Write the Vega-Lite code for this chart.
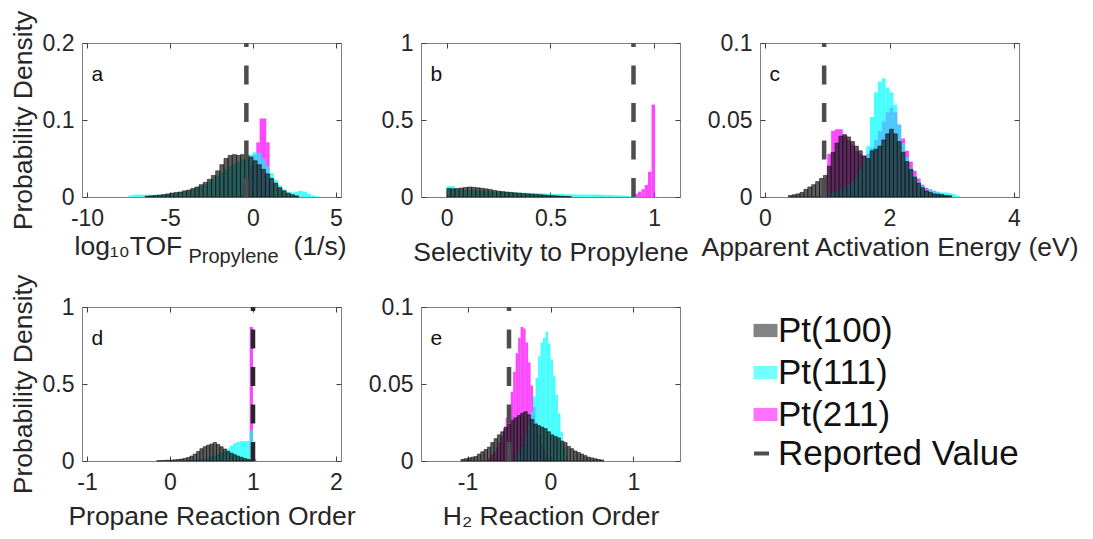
{
"$schema":"https://vega.github.io/schema/vega-lite/v6.json",
"padding":{"left":9,"top":9,"right":5,"bottom":5},
"datasets":{
"ref":[
{"p":"a","x0":-0.4,"r":"Reported Value"},
{"p":"b","x0":0.9,"r":"Reported Value"},
{"p":"c","x0":0.95,"r":"Reported Value"},
{"p":"d","x0":1.0,"r":"Reported Value"},
{"p":"e","x0":-0.5,"r":"Reported Value"}
],
"bars":[
{"p":"a","s":"Pt(100)","x0":-6.5,"x1":-6.25,"y":0.001},
{"p":"a","s":"Pt(100)","x0":-6.25,"x1":-6,"y":0.0015},
{"p":"a","s":"Pt(100)","x0":-6,"x1":-5.75,"y":0.002},
{"p":"a","s":"Pt(100)","x0":-5.75,"x1":-5.5,"y":0.0025},
{"p":"a","s":"Pt(100)","x0":-5.5,"x1":-5.25,"y":0.003},
{"p":"a","s":"Pt(100)","x0":-5.25,"x1":-5,"y":0.004},
{"p":"a","s":"Pt(100)","x0":-5,"x1":-4.75,"y":0.005},
{"p":"a","s":"Pt(100)","x0":-4.75,"x1":-4.5,"y":0.006},
{"p":"a","s":"Pt(100)","x0":-4.5,"x1":-4.25,"y":0.0065},
{"p":"a","s":"Pt(100)","x0":-4.25,"x1":-4,"y":0.008},
{"p":"a","s":"Pt(100)","x0":-4,"x1":-3.75,"y":0.009},
{"p":"a","s":"Pt(100)","x0":-3.75,"x1":-3.5,"y":0.011},
{"p":"a","s":"Pt(100)","x0":-3.5,"x1":-3.25,"y":0.013},
{"p":"a","s":"Pt(100)","x0":-3.25,"x1":-3,"y":0.016},
{"p":"a","s":"Pt(100)","x0":-3,"x1":-2.75,"y":0.019},
{"p":"a","s":"Pt(100)","x0":-2.75,"x1":-2.5,"y":0.023},
{"p":"a","s":"Pt(100)","x0":-2.5,"x1":-2.25,"y":0.028},
{"p":"a","s":"Pt(100)","x0":-2.25,"x1":-2,"y":0.034},
{"p":"a","s":"Pt(100)","x0":-2,"x1":-1.75,"y":0.042},
{"p":"a","s":"Pt(100)","x0":-1.75,"x1":-1.5,"y":0.05},
{"p":"a","s":"Pt(100)","x0":-1.5,"x1":-1.25,"y":0.054},
{"p":"a","s":"Pt(100)","x0":-1.25,"x1":-1,"y":0.055},
{"p":"a","s":"Pt(100)","x0":-1,"x1":-0.75,"y":0.054},
{"p":"a","s":"Pt(100)","x0":-0.75,"x1":-0.5,"y":0.055},
{"p":"a","s":"Pt(100)","x0":-0.5,"x1":-0.25,"y":0.054},
{"p":"a","s":"Pt(100)","x0":-0.25,"x1":0,"y":0.052},
{"p":"a","s":"Pt(100)","x0":0,"x1":0.25,"y":0.047},
{"p":"a","s":"Pt(100)","x0":0.25,"x1":0.5,"y":0.042},
{"p":"a","s":"Pt(100)","x0":0.5,"x1":0.75,"y":0.036},
{"p":"a","s":"Pt(100)","x0":0.75,"x1":1,"y":0.03},
{"p":"a","s":"Pt(100)","x0":1,"x1":1.25,"y":0.024},
{"p":"a","s":"Pt(100)","x0":1.25,"x1":1.5,"y":0.018},
{"p":"a","s":"Pt(100)","x0":1.5,"x1":1.75,"y":0.012},
{"p":"a","s":"Pt(100)","x0":1.75,"x1":2,"y":0.008},
{"p":"a","s":"Pt(100)","x0":2,"x1":2.25,"y":0.005},
{"p":"a","s":"Pt(100)","x0":2.25,"x1":2.5,"y":0.003},
{"p":"a","s":"Pt(100)","x0":2.5,"x1":2.75,"y":0.0015},
{"p":"a","s":"Pt(111)","x0":-7.5,"x1":-7.25,"y":0.002},
{"p":"a","s":"Pt(111)","x0":-7.25,"x1":-7,"y":0.003},
{"p":"a","s":"Pt(111)","x0":-7,"x1":-6.75,"y":0.003},
{"p":"a","s":"Pt(111)","x0":-6.75,"x1":-6.5,"y":0.003},
{"p":"a","s":"Pt(111)","x0":-6.5,"x1":-6.25,"y":0.003},
{"p":"a","s":"Pt(111)","x0":-6.25,"x1":-6,"y":0.003},
{"p":"a","s":"Pt(111)","x0":-6,"x1":-5.75,"y":0.003},
{"p":"a","s":"Pt(111)","x0":-5.75,"x1":-5.5,"y":0.003},
{"p":"a","s":"Pt(111)","x0":-5.5,"x1":-5.25,"y":0.004},
{"p":"a","s":"Pt(111)","x0":-5.25,"x1":-5,"y":0.004},
{"p":"a","s":"Pt(111)","x0":-5,"x1":-4.75,"y":0.005},
{"p":"a","s":"Pt(111)","x0":-4.75,"x1":-4.5,"y":0.005},
{"p":"a","s":"Pt(111)","x0":-4.5,"x1":-4.25,"y":0.006},
{"p":"a","s":"Pt(111)","x0":-4.25,"x1":-4,"y":0.007},
{"p":"a","s":"Pt(111)","x0":-4,"x1":-3.75,"y":0.008},
{"p":"a","s":"Pt(111)","x0":-3.75,"x1":-3.5,"y":0.01},
{"p":"a","s":"Pt(111)","x0":-3.5,"x1":-3.25,"y":0.012},
{"p":"a","s":"Pt(111)","x0":-3.25,"x1":-3,"y":0.014},
{"p":"a","s":"Pt(111)","x0":-3,"x1":-2.75,"y":0.017},
{"p":"a","s":"Pt(111)","x0":-2.75,"x1":-2.5,"y":0.02},
{"p":"a","s":"Pt(111)","x0":-2.5,"x1":-2.25,"y":0.024},
{"p":"a","s":"Pt(111)","x0":-2.25,"x1":-2,"y":0.028},
{"p":"a","s":"Pt(111)","x0":-2,"x1":-1.75,"y":0.032},
{"p":"a","s":"Pt(111)","x0":-1.75,"x1":-1.5,"y":0.036},
{"p":"a","s":"Pt(111)","x0":-1.5,"x1":-1.25,"y":0.04},
{"p":"a","s":"Pt(111)","x0":-1.25,"x1":-1,"y":0.043},
{"p":"a","s":"Pt(111)","x0":-1,"x1":-0.75,"y":0.046},
{"p":"a","s":"Pt(111)","x0":-0.75,"x1":-0.5,"y":0.049},
{"p":"a","s":"Pt(111)","x0":-0.5,"x1":-0.25,"y":0.052},
{"p":"a","s":"Pt(111)","x0":-0.25,"x1":0,"y":0.055},
{"p":"a","s":"Pt(111)","x0":0,"x1":0.25,"y":0.058},
{"p":"a","s":"Pt(111)","x0":0.25,"x1":0.5,"y":0.057},
{"p":"a","s":"Pt(111)","x0":0.5,"x1":0.75,"y":0.05},
{"p":"a","s":"Pt(111)","x0":0.75,"x1":1,"y":0.04},
{"p":"a","s":"Pt(111)","x0":1,"x1":1.25,"y":0.031},
{"p":"a","s":"Pt(111)","x0":1.25,"x1":1.5,"y":0.022},
{"p":"a","s":"Pt(111)","x0":1.5,"x1":1.75,"y":0.015},
{"p":"a","s":"Pt(111)","x0":1.75,"x1":2,"y":0.01},
{"p":"a","s":"Pt(111)","x0":2,"x1":2.25,"y":0.007},
{"p":"a","s":"Pt(111)","x0":2.25,"x1":2.5,"y":0.006},
{"p":"a","s":"Pt(111)","x0":2.5,"x1":2.75,"y":0.007},
{"p":"a","s":"Pt(111)","x0":2.75,"x1":3,"y":0.008},
{"p":"a","s":"Pt(111)","x0":3,"x1":3.25,"y":0.007},
{"p":"a","s":"Pt(111)","x0":3.25,"x1":3.5,"y":0.004},
{"p":"a","s":"Pt(111)","x0":3.5,"x1":3.75,"y":0.002},
{"p":"a","s":"Pt(111)","x0":3.75,"x1":4,"y":0.001},
{"p":"a","s":"Pt(211)","x0":-0.6,"x1":-0.4,"y":0.015},
{"p":"a","s":"Pt(211)","x0":-0.4,"x1":-0.2,"y":0.025},
{"p":"a","s":"Pt(211)","x0":-0.2,"x1":0,"y":0.04},
{"p":"a","s":"Pt(211)","x0":0,"x1":0.2,"y":0.055},
{"p":"a","s":"Pt(211)","x0":0.2,"x1":0.4,"y":0.071},
{"p":"a","s":"Pt(211)","x0":0.4,"x1":0.6,"y":0.102},
{"p":"a","s":"Pt(211)","x0":0.6,"x1":0.8,"y":0.102},
{"p":"a","s":"Pt(211)","x0":0.8,"x1":1,"y":0.071},
{"p":"a","s":"Pt(211)","x0":1,"x1":1.2,"y":0.025},

{"p":"b","s":"Pt(100)","x0":0,"x1":0.02,"y":0.055},
{"p":"b","s":"Pt(100)","x0":0.02,"x1":0.04,"y":0.053},
{"p":"b","s":"Pt(100)","x0":0.04,"x1":0.06,"y":0.055},
{"p":"b","s":"Pt(100)","x0":0.06,"x1":0.08,"y":0.058},
{"p":"b","s":"Pt(100)","x0":0.08,"x1":0.1,"y":0.062},
{"p":"b","s":"Pt(100)","x0":0.1,"x1":0.12,"y":0.065},
{"p":"b","s":"Pt(100)","x0":0.12,"x1":0.14,"y":0.063},
{"p":"b","s":"Pt(100)","x0":0.14,"x1":0.16,"y":0.06},
{"p":"b","s":"Pt(100)","x0":0.16,"x1":0.18,"y":0.057},
{"p":"b","s":"Pt(100)","x0":0.18,"x1":0.2,"y":0.053},
{"p":"b","s":"Pt(100)","x0":0.2,"x1":0.22,"y":0.048},
{"p":"b","s":"Pt(100)","x0":0.22,"x1":0.24,"y":0.043},
{"p":"b","s":"Pt(100)","x0":0.24,"x1":0.26,"y":0.038},
{"p":"b","s":"Pt(100)","x0":0.26,"x1":0.28,"y":0.035},
{"p":"b","s":"Pt(100)","x0":0.28,"x1":0.3,"y":0.032},
{"p":"b","s":"Pt(100)","x0":0.3,"x1":0.32,"y":0.03},
{"p":"b","s":"Pt(100)","x0":0.32,"x1":0.34,"y":0.027},
{"p":"b","s":"Pt(100)","x0":0.34,"x1":0.36,"y":0.025},
{"p":"b","s":"Pt(100)","x0":0.36,"x1":0.38,"y":0.023},
{"p":"b","s":"Pt(100)","x0":0.38,"x1":0.4,"y":0.021},
{"p":"b","s":"Pt(100)","x0":0.4,"x1":0.42,"y":0.019},
{"p":"b","s":"Pt(100)","x0":0.42,"x1":0.44,"y":0.017},
{"p":"b","s":"Pt(100)","x0":0.44,"x1":0.46,"y":0.015},
{"p":"b","s":"Pt(100)","x0":0.46,"x1":0.48,"y":0.013},
{"p":"b","s":"Pt(100)","x0":0.48,"x1":0.5,"y":0.011},
{"p":"b","s":"Pt(100)","x0":0.5,"x1":0.52,"y":0.009},
{"p":"b","s":"Pt(100)","x0":0.52,"x1":0.54,"y":0.007},
{"p":"b","s":"Pt(100)","x0":0.54,"x1":0.56,"y":0.005},
{"p":"b","s":"Pt(100)","x0":0.56,"x1":0.58,"y":0.004},
{"p":"b","s":"Pt(100)","x0":0.58,"x1":0.6,"y":0.003},
{"p":"b","s":"Pt(111)","x0":0,"x1":0.04,"y":0.07},
{"p":"b","s":"Pt(111)","x0":0.04,"x1":0.08,"y":0.05},
{"p":"b","s":"Pt(111)","x0":0.08,"x1":0.12,"y":0.047},
{"p":"b","s":"Pt(111)","x0":0.12,"x1":0.16,"y":0.044},
{"p":"b","s":"Pt(111)","x0":0.16,"x1":0.2,"y":0.041},
{"p":"b","s":"Pt(111)","x0":0.2,"x1":0.24,"y":0.037},
{"p":"b","s":"Pt(111)","x0":0.24,"x1":0.28,"y":0.034},
{"p":"b","s":"Pt(111)","x0":0.28,"x1":0.32,"y":0.031},
{"p":"b","s":"Pt(111)","x0":0.32,"x1":0.36,"y":0.029},
{"p":"b","s":"Pt(111)","x0":0.36,"x1":0.4,"y":0.027},
{"p":"b","s":"Pt(111)","x0":0.4,"x1":0.44,"y":0.025},
{"p":"b","s":"Pt(111)","x0":0.44,"x1":0.48,"y":0.023},
{"p":"b","s":"Pt(111)","x0":0.48,"x1":0.52,"y":0.021},
{"p":"b","s":"Pt(111)","x0":0.52,"x1":0.56,"y":0.019},
{"p":"b","s":"Pt(111)","x0":0.56,"x1":0.6,"y":0.018},
{"p":"b","s":"Pt(111)","x0":0.6,"x1":0.64,"y":0.017},
{"p":"b","s":"Pt(111)","x0":0.64,"x1":0.68,"y":0.016},
{"p":"b","s":"Pt(111)","x0":0.68,"x1":0.72,"y":0.016},
{"p":"b","s":"Pt(111)","x0":0.72,"x1":0.76,"y":0.015},
{"p":"b","s":"Pt(111)","x0":0.76,"x1":0.8,"y":0.013},
{"p":"b","s":"Pt(111)","x0":0.8,"x1":0.84,"y":0.011},
{"p":"b","s":"Pt(111)","x0":0.84,"x1":0.88,"y":0.008},
{"p":"b","s":"Pt(111)","x0":0.88,"x1":0.92,"y":0.004},
{"p":"b","s":"Pt(211)","x0":0.904,"x1":0.921,"y":0.02},
{"p":"b","s":"Pt(211)","x0":0.921,"x1":0.938,"y":0.035},
{"p":"b","s":"Pt(211)","x0":0.938,"x1":0.954,"y":0.05},
{"p":"b","s":"Pt(211)","x0":0.954,"x1":0.97,"y":0.078},
{"p":"b","s":"Pt(211)","x0":0.97,"x1":0.987,"y":0.164},
{"p":"b","s":"Pt(211)","x0":0.987,"x1":1.004,"y":0.6},

{"p":"c","s":"Pt(100)","x0":0.375,"x1":0.4375,"y":0.001},
{"p":"c","s":"Pt(100)","x0":0.4375,"x1":0.5,"y":0.0015},
{"p":"c","s":"Pt(100)","x0":0.5,"x1":0.5625,"y":0.002},
{"p":"c","s":"Pt(100)","x0":0.5625,"x1":0.625,"y":0.003},
{"p":"c","s":"Pt(100)","x0":0.625,"x1":0.6875,"y":0.005},
{"p":"c","s":"Pt(100)","x0":0.6875,"x1":0.75,"y":0.0065},
{"p":"c","s":"Pt(100)","x0":0.75,"x1":0.8125,"y":0.008},
{"p":"c","s":"Pt(100)","x0":0.8125,"x1":0.875,"y":0.01},
{"p":"c","s":"Pt(100)","x0":0.875,"x1":0.9375,"y":0.012},
{"p":"c","s":"Pt(100)","x0":0.9375,"x1":1,"y":0.014},
{"p":"c","s":"Pt(100)","x0":1,"x1":1.0625,"y":0.02},
{"p":"c","s":"Pt(100)","x0":1.0625,"x1":1.125,"y":0.029},
{"p":"c","s":"Pt(100)","x0":1.125,"x1":1.1875,"y":0.035},
{"p":"c","s":"Pt(100)","x0":1.1875,"x1":1.25,"y":0.0395},
{"p":"c","s":"Pt(100)","x0":1.25,"x1":1.3125,"y":0.0405},
{"p":"c","s":"Pt(100)","x0":1.3125,"x1":1.375,"y":0.039},
{"p":"c","s":"Pt(100)","x0":1.375,"x1":1.4375,"y":0.036},
{"p":"c","s":"Pt(100)","x0":1.4375,"x1":1.5,"y":0.033},
{"p":"c","s":"Pt(100)","x0":1.5,"x1":1.5625,"y":0.03},
{"p":"c","s":"Pt(100)","x0":1.5625,"x1":1.625,"y":0.0265},
{"p":"c","s":"Pt(100)","x0":1.625,"x1":1.6875,"y":0.025},
{"p":"c","s":"Pt(100)","x0":1.6875,"x1":1.75,"y":0.03},
{"p":"c","s":"Pt(100)","x0":1.75,"x1":1.8125,"y":0.031},
{"p":"c","s":"Pt(100)","x0":1.8125,"x1":1.875,"y":0.033},
{"p":"c","s":"Pt(100)","x0":1.875,"x1":1.9375,"y":0.037},
{"p":"c","s":"Pt(100)","x0":1.9375,"x1":2,"y":0.041},
{"p":"c","s":"Pt(100)","x0":2,"x1":2.0625,"y":0.044},
{"p":"c","s":"Pt(100)","x0":2.0625,"x1":2.125,"y":0.041},
{"p":"c","s":"Pt(100)","x0":2.125,"x1":2.1875,"y":0.036},
{"p":"c","s":"Pt(100)","x0":2.1875,"x1":2.25,"y":0.029},
{"p":"c","s":"Pt(100)","x0":2.25,"x1":2.3125,"y":0.023},
{"p":"c","s":"Pt(100)","x0":2.3125,"x1":2.375,"y":0.018},
{"p":"c","s":"Pt(100)","x0":2.375,"x1":2.4375,"y":0.013},
{"p":"c","s":"Pt(100)","x0":2.4375,"x1":2.5,"y":0.009},
{"p":"c","s":"Pt(100)","x0":2.5,"x1":2.5625,"y":0.006},
{"p":"c","s":"Pt(100)","x0":2.5625,"x1":2.625,"y":0.004},
{"p":"c","s":"Pt(100)","x0":2.625,"x1":2.6875,"y":0.003},
{"p":"c","s":"Pt(100)","x0":2.6875,"x1":2.75,"y":0.002},
{"p":"c","s":"Pt(100)","x0":2.75,"x1":2.8125,"y":0.0018},
{"p":"c","s":"Pt(100)","x0":2.8125,"x1":2.875,"y":0.0015},
{"p":"c","s":"Pt(100)","x0":2.875,"x1":2.9375,"y":0.001},
{"p":"c","s":"Pt(100)","x0":2.9375,"x1":3,"y":0.0008},
{"p":"c","s":"Pt(111)","x0":1,"x1":1.0625,"y":0.002},
{"p":"c","s":"Pt(111)","x0":1.0625,"x1":1.125,"y":0.003},
{"p":"c","s":"Pt(111)","x0":1.125,"x1":1.1875,"y":0.004},
{"p":"c","s":"Pt(111)","x0":1.1875,"x1":1.25,"y":0.005},
{"p":"c","s":"Pt(111)","x0":1.25,"x1":1.3125,"y":0.006},
{"p":"c","s":"Pt(111)","x0":1.3125,"x1":1.375,"y":0.008},
{"p":"c","s":"Pt(111)","x0":1.375,"x1":1.4375,"y":0.01},
{"p":"c","s":"Pt(111)","x0":1.4375,"x1":1.5,"y":0.013},
{"p":"c","s":"Pt(111)","x0":1.5,"x1":1.5625,"y":0.018},
{"p":"c","s":"Pt(111)","x0":1.5625,"x1":1.625,"y":0.025},
{"p":"c","s":"Pt(111)","x0":1.625,"x1":1.6875,"y":0.033},
{"p":"c","s":"Pt(111)","x0":1.6875,"x1":1.75,"y":0.052},
{"p":"c","s":"Pt(111)","x0":1.75,"x1":1.8125,"y":0.068},
{"p":"c","s":"Pt(111)","x0":1.8125,"x1":1.875,"y":0.075},
{"p":"c","s":"Pt(111)","x0":1.875,"x1":1.9375,"y":0.077},
{"p":"c","s":"Pt(111)","x0":1.9375,"x1":2,"y":0.071},
{"p":"c","s":"Pt(111)","x0":2,"x1":2.0625,"y":0.068},
{"p":"c","s":"Pt(111)","x0":2.0625,"x1":2.125,"y":0.06},
{"p":"c","s":"Pt(111)","x0":2.125,"x1":2.1875,"y":0.047},
{"p":"c","s":"Pt(111)","x0":2.1875,"x1":2.25,"y":0.035},
{"p":"c","s":"Pt(111)","x0":2.25,"x1":2.3125,"y":0.026},
{"p":"c","s":"Pt(111)","x0":2.3125,"x1":2.375,"y":0.019},
{"p":"c","s":"Pt(111)","x0":2.375,"x1":2.4375,"y":0.014},
{"p":"c","s":"Pt(111)","x0":2.4375,"x1":2.5,"y":0.01},
{"p":"c","s":"Pt(111)","x0":2.5,"x1":2.5625,"y":0.007},
{"p":"c","s":"Pt(111)","x0":2.5625,"x1":2.625,"y":0.005},
{"p":"c","s":"Pt(111)","x0":2.625,"x1":2.6875,"y":0.0045},
{"p":"c","s":"Pt(111)","x0":2.6875,"x1":2.75,"y":0.004},
{"p":"c","s":"Pt(111)","x0":2.75,"x1":2.8125,"y":0.0035},
{"p":"c","s":"Pt(111)","x0":2.8125,"x1":2.875,"y":0.003},
{"p":"c","s":"Pt(111)","x0":2.875,"x1":2.9375,"y":0.003},
{"p":"c","s":"Pt(111)","x0":2.9375,"x1":3,"y":0.0025},
{"p":"c","s":"Pt(111)","x0":3,"x1":3.0625,"y":0.002},
{"p":"c","s":"Pt(111)","x0":3.0625,"x1":3.125,"y":0.001},
{"p":"c","s":"Pt(211)","x0":1,"x1":1.0625,"y":0.028},
{"p":"c","s":"Pt(211)","x0":1.0625,"x1":1.125,"y":0.043},
{"p":"c","s":"Pt(211)","x0":1.125,"x1":1.1875,"y":0.044},
{"p":"c","s":"Pt(211)","x0":1.1875,"x1":1.25,"y":0.044},
{"p":"c","s":"Pt(211)","x0":1.25,"x1":1.3125,"y":0.04},
{"p":"c","s":"Pt(211)","x0":1.3125,"x1":1.375,"y":0.037},
{"p":"c","s":"Pt(211)","x0":1.375,"x1":1.4375,"y":0.034},
{"p":"c","s":"Pt(211)","x0":1.4375,"x1":1.5,"y":0.03},
{"p":"c","s":"Pt(211)","x0":1.5,"x1":1.5625,"y":0.028},
{"p":"c","s":"Pt(211)","x0":1.5625,"x1":1.625,"y":0.027},
{"p":"c","s":"Pt(211)","x0":1.625,"x1":1.6875,"y":0.028},
{"p":"c","s":"Pt(211)","x0":1.6875,"x1":1.75,"y":0.032},
{"p":"c","s":"Pt(211)","x0":1.75,"x1":1.8125,"y":0.037},
{"p":"c","s":"Pt(211)","x0":1.8125,"x1":1.875,"y":0.043},
{"p":"c","s":"Pt(211)","x0":1.875,"x1":1.9375,"y":0.049},
{"p":"c","s":"Pt(211)","x0":1.9375,"x1":2,"y":0.055},
{"p":"c","s":"Pt(211)","x0":2,"x1":2.0625,"y":0.058},
{"p":"c","s":"Pt(211)","x0":2.0625,"x1":2.125,"y":0.055},
{"p":"c","s":"Pt(211)","x0":2.125,"x1":2.1875,"y":0.047},
{"p":"c","s":"Pt(211)","x0":2.1875,"x1":2.25,"y":0.038},
{"p":"c","s":"Pt(211)","x0":2.25,"x1":2.3125,"y":0.03},
{"p":"c","s":"Pt(211)","x0":2.3125,"x1":2.375,"y":0.023},
{"p":"c","s":"Pt(211)","x0":2.375,"x1":2.4375,"y":0.017},
{"p":"c","s":"Pt(211)","x0":2.4375,"x1":2.5,"y":0.012},
{"p":"c","s":"Pt(211)","x0":2.5,"x1":2.5625,"y":0.008},
{"p":"c","s":"Pt(211)","x0":2.5625,"x1":2.625,"y":0.006},
{"p":"c","s":"Pt(211)","x0":2.625,"x1":2.6875,"y":0.005},
{"p":"c","s":"Pt(211)","x0":2.6875,"x1":2.75,"y":0.004},
{"p":"c","s":"Pt(211)","x0":2.75,"x1":2.8125,"y":0.003},
{"p":"c","s":"Pt(211)","x0":2.8125,"x1":2.875,"y":0.002},
{"p":"c","s":"Pt(211)","x0":2.875,"x1":2.9375,"y":0.001},

{"p":"d","s":"Pt(100)","x0":-0.16,"x1":-0.12,"y":0.002},
{"p":"d","s":"Pt(100)","x0":-0.12,"x1":-0.08,"y":0.003},
{"p":"d","s":"Pt(100)","x0":-0.08,"x1":-0.04,"y":0.004},
{"p":"d","s":"Pt(100)","x0":-0.04,"x1":0,"y":0.005},
{"p":"d","s":"Pt(100)","x0":0,"x1":0.04,"y":0.006},
{"p":"d","s":"Pt(100)","x0":0.04,"x1":0.08,"y":0.008},
{"p":"d","s":"Pt(100)","x0":0.08,"x1":0.12,"y":0.01},
{"p":"d","s":"Pt(100)","x0":0.12,"x1":0.16,"y":0.013},
{"p":"d","s":"Pt(100)","x0":0.16,"x1":0.2,"y":0.017},
{"p":"d","s":"Pt(100)","x0":0.2,"x1":0.24,"y":0.023},
{"p":"d","s":"Pt(100)","x0":0.24,"x1":0.28,"y":0.032},
{"p":"d","s":"Pt(100)","x0":0.28,"x1":0.32,"y":0.045},
{"p":"d","s":"Pt(100)","x0":0.32,"x1":0.36,"y":0.062},
{"p":"d","s":"Pt(100)","x0":0.36,"x1":0.4,"y":0.08},
{"p":"d","s":"Pt(100)","x0":0.4,"x1":0.44,"y":0.093},
{"p":"d","s":"Pt(100)","x0":0.44,"x1":0.48,"y":0.103},
{"p":"d","s":"Pt(100)","x0":0.48,"x1":0.52,"y":0.11},
{"p":"d","s":"Pt(100)","x0":0.52,"x1":0.56,"y":0.12},
{"p":"d","s":"Pt(100)","x0":0.56,"x1":0.6,"y":0.108},
{"p":"d","s":"Pt(100)","x0":0.6,"x1":0.64,"y":0.093},
{"p":"d","s":"Pt(100)","x0":0.64,"x1":0.68,"y":0.078},
{"p":"d","s":"Pt(100)","x0":0.68,"x1":0.72,"y":0.063},
{"p":"d","s":"Pt(100)","x0":0.72,"x1":0.76,"y":0.051},
{"p":"d","s":"Pt(100)","x0":0.76,"x1":0.8,"y":0.041},
{"p":"d","s":"Pt(100)","x0":0.8,"x1":0.84,"y":0.032},
{"p":"d","s":"Pt(100)","x0":0.84,"x1":0.88,"y":0.024},
{"p":"d","s":"Pt(100)","x0":0.88,"x1":0.92,"y":0.017},
{"p":"d","s":"Pt(100)","x0":0.92,"x1":0.96,"y":0.011},
{"p":"d","s":"Pt(100)","x0":0.96,"x1":1,"y":0.006},
{"p":"d","s":"Pt(111)","x0":0.2,"x1":0.24,"y":0.004},
{"p":"d","s":"Pt(111)","x0":0.24,"x1":0.28,"y":0.006},
{"p":"d","s":"Pt(111)","x0":0.28,"x1":0.32,"y":0.008},
{"p":"d","s":"Pt(111)","x0":0.32,"x1":0.36,"y":0.011},
{"p":"d","s":"Pt(111)","x0":0.36,"x1":0.4,"y":0.015},
{"p":"d","s":"Pt(111)","x0":0.4,"x1":0.44,"y":0.019},
{"p":"d","s":"Pt(111)","x0":0.44,"x1":0.48,"y":0.024},
{"p":"d","s":"Pt(111)","x0":0.48,"x1":0.52,"y":0.03},
{"p":"d","s":"Pt(111)","x0":0.52,"x1":0.56,"y":0.037},
{"p":"d","s":"Pt(111)","x0":0.56,"x1":0.6,"y":0.045},
{"p":"d","s":"Pt(111)","x0":0.6,"x1":0.64,"y":0.055},
{"p":"d","s":"Pt(111)","x0":0.64,"x1":0.68,"y":0.066},
{"p":"d","s":"Pt(111)","x0":0.68,"x1":0.72,"y":0.08},
{"p":"d","s":"Pt(111)","x0":0.72,"x1":0.76,"y":0.1},
{"p":"d","s":"Pt(111)","x0":0.76,"x1":0.8,"y":0.115},
{"p":"d","s":"Pt(111)","x0":0.8,"x1":0.84,"y":0.124},
{"p":"d","s":"Pt(111)","x0":0.84,"x1":0.88,"y":0.128},
{"p":"d","s":"Pt(111)","x0":0.88,"x1":0.92,"y":0.13},
{"p":"d","s":"Pt(111)","x0":0.92,"x1":0.96,"y":0.13},
{"p":"d","s":"Pt(111)","x0":0.96,"x1":1,"y":0.2},
{"p":"d","s":"Pt(211)","x0":0.96,"x1":1,"y":0.87},
{"p":"d","s":"Pt(211)","x0":1,"x1":1.04,"y":0.012},

{"p":"e","s":"Pt(100)","x0":-1.08,"x1":-1.04,"y":0.001},
{"p":"e","s":"Pt(100)","x0":-1.04,"x1":-1,"y":0.0015},
{"p":"e","s":"Pt(100)","x0":-1,"x1":-0.96,"y":0.002},
{"p":"e","s":"Pt(100)","x0":-0.96,"x1":-0.92,"y":0.0025},
{"p":"e","s":"Pt(100)","x0":-0.92,"x1":-0.88,"y":0.003},
{"p":"e","s":"Pt(100)","x0":-0.88,"x1":-0.84,"y":0.0045},
{"p":"e","s":"Pt(100)","x0":-0.84,"x1":-0.8,"y":0.006},
{"p":"e","s":"Pt(100)","x0":-0.8,"x1":-0.76,"y":0.0075},
{"p":"e","s":"Pt(100)","x0":-0.76,"x1":-0.72,"y":0.009},
{"p":"e","s":"Pt(100)","x0":-0.72,"x1":-0.68,"y":0.012},
{"p":"e","s":"Pt(100)","x0":-0.68,"x1":-0.64,"y":0.0145},
{"p":"e","s":"Pt(100)","x0":-0.64,"x1":-0.6,"y":0.017},
{"p":"e","s":"Pt(100)","x0":-0.6,"x1":-0.56,"y":0.019},
{"p":"e","s":"Pt(100)","x0":-0.56,"x1":-0.52,"y":0.022},
{"p":"e","s":"Pt(100)","x0":-0.52,"x1":-0.48,"y":0.024},
{"p":"e","s":"Pt(100)","x0":-0.48,"x1":-0.44,"y":0.0265},
{"p":"e","s":"Pt(100)","x0":-0.44,"x1":-0.4,"y":0.028},
{"p":"e","s":"Pt(100)","x0":-0.4,"x1":-0.36,"y":0.0295},
{"p":"e","s":"Pt(100)","x0":-0.36,"x1":-0.32,"y":0.031},
{"p":"e","s":"Pt(100)","x0":-0.32,"x1":-0.28,"y":0.032},
{"p":"e","s":"Pt(100)","x0":-0.28,"x1":-0.24,"y":0.03},
{"p":"e","s":"Pt(100)","x0":-0.24,"x1":-0.2,"y":0.027},
{"p":"e","s":"Pt(100)","x0":-0.2,"x1":-0.16,"y":0.024},
{"p":"e","s":"Pt(100)","x0":-0.16,"x1":-0.12,"y":0.023},
{"p":"e","s":"Pt(100)","x0":-0.12,"x1":-0.08,"y":0.022},
{"p":"e","s":"Pt(100)","x0":-0.08,"x1":-0.04,"y":0.021},
{"p":"e","s":"Pt(100)","x0":-0.04,"x1":0,"y":0.019},
{"p":"e","s":"Pt(100)","x0":0,"x1":0.04,"y":0.017},
{"p":"e","s":"Pt(100)","x0":0.04,"x1":0.08,"y":0.016},
{"p":"e","s":"Pt(100)","x0":0.08,"x1":0.12,"y":0.015},
{"p":"e","s":"Pt(100)","x0":0.12,"x1":0.16,"y":0.013},
{"p":"e","s":"Pt(100)","x0":0.16,"x1":0.2,"y":0.012},
{"p":"e","s":"Pt(100)","x0":0.2,"x1":0.24,"y":0.0095},
{"p":"e","s":"Pt(100)","x0":0.24,"x1":0.28,"y":0.008},
{"p":"e","s":"Pt(100)","x0":0.28,"x1":0.32,"y":0.0065},
{"p":"e","s":"Pt(100)","x0":0.32,"x1":0.36,"y":0.0055},
{"p":"e","s":"Pt(100)","x0":0.36,"x1":0.4,"y":0.0045},
{"p":"e","s":"Pt(100)","x0":0.4,"x1":0.44,"y":0.0035},
{"p":"e","s":"Pt(100)","x0":0.44,"x1":0.48,"y":0.0025},
{"p":"e","s":"Pt(100)","x0":0.48,"x1":0.52,"y":0.002},
{"p":"e","s":"Pt(100)","x0":0.52,"x1":0.56,"y":0.0015},
{"p":"e","s":"Pt(100)","x0":0.56,"x1":0.6,"y":0.001},
{"p":"e","s":"Pt(100)","x0":0.6,"x1":0.64,"y":0.0007},
{"p":"e","s":"Pt(111)","x0":-0.42,"x1":-0.39,"y":0.004},
{"p":"e","s":"Pt(111)","x0":-0.39,"x1":-0.36,"y":0.006},
{"p":"e","s":"Pt(111)","x0":-0.36,"x1":-0.33,"y":0.009},
{"p":"e","s":"Pt(111)","x0":-0.33,"x1":-0.3,"y":0.013},
{"p":"e","s":"Pt(111)","x0":-0.3,"x1":-0.27,"y":0.018},
{"p":"e","s":"Pt(111)","x0":-0.27,"x1":-0.24,"y":0.024},
{"p":"e","s":"Pt(111)","x0":-0.24,"x1":-0.21,"y":0.032},
{"p":"e","s":"Pt(111)","x0":-0.21,"x1":-0.18,"y":0.042},
{"p":"e","s":"Pt(111)","x0":-0.18,"x1":-0.15,"y":0.054},
{"p":"e","s":"Pt(111)","x0":-0.15,"x1":-0.12,"y":0.068},
{"p":"e","s":"Pt(111)","x0":-0.12,"x1":-0.09,"y":0.077},
{"p":"e","s":"Pt(111)","x0":-0.09,"x1":-0.06,"y":0.08},
{"p":"e","s":"Pt(111)","x0":-0.06,"x1":-0.03,"y":0.084},
{"p":"e","s":"Pt(111)","x0":-0.03,"x1":0,"y":0.076},
{"p":"e","s":"Pt(111)","x0":0,"x1":0.03,"y":0.066},
{"p":"e","s":"Pt(111)","x0":0.03,"x1":0.06,"y":0.055},
{"p":"e","s":"Pt(111)","x0":0.06,"x1":0.09,"y":0.043},
{"p":"e","s":"Pt(111)","x0":0.09,"x1":0.12,"y":0.031},
{"p":"e","s":"Pt(111)","x0":0.12,"x1":0.15,"y":0.019},
{"p":"e","s":"Pt(111)","x0":0.15,"x1":0.18,"y":0.009},
{"p":"e","s":"Pt(111)","x0":0.18,"x1":0.21,"y":0.002},
{"p":"e","s":"Pt(211)","x0":-0.75,"x1":-0.72,"y":0.002},
{"p":"e","s":"Pt(211)","x0":-0.72,"x1":-0.69,"y":0.004},
{"p":"e","s":"Pt(211)","x0":-0.69,"x1":-0.66,"y":0.006},
{"p":"e","s":"Pt(211)","x0":-0.66,"x1":-0.63,"y":0.009},
{"p":"e","s":"Pt(211)","x0":-0.63,"x1":-0.6,"y":0.012},
{"p":"e","s":"Pt(211)","x0":-0.6,"x1":-0.57,"y":0.016},
{"p":"e","s":"Pt(211)","x0":-0.57,"x1":-0.54,"y":0.021},
{"p":"e","s":"Pt(211)","x0":-0.54,"x1":-0.51,"y":0.028},
{"p":"e","s":"Pt(211)","x0":-0.51,"x1":-0.48,"y":0.036},
{"p":"e","s":"Pt(211)","x0":-0.48,"x1":-0.45,"y":0.045},
{"p":"e","s":"Pt(211)","x0":-0.45,"x1":-0.42,"y":0.058},
{"p":"e","s":"Pt(211)","x0":-0.42,"x1":-0.39,"y":0.07},
{"p":"e","s":"Pt(211)","x0":-0.39,"x1":-0.36,"y":0.08},
{"p":"e","s":"Pt(211)","x0":-0.36,"x1":-0.33,"y":0.087},
{"p":"e","s":"Pt(211)","x0":-0.33,"x1":-0.3,"y":0.086},
{"p":"e","s":"Pt(211)","x0":-0.3,"x1":-0.27,"y":0.077},
{"p":"e","s":"Pt(211)","x0":-0.27,"x1":-0.24,"y":0.064},
{"p":"e","s":"Pt(211)","x0":-0.24,"x1":-0.21,"y":0.049},
{"p":"e","s":"Pt(211)","x0":-0.21,"x1":-0.18,"y":0.035},
{"p":"e","s":"Pt(211)","x0":-0.18,"x1":-0.15,"y":0.025},
{"p":"e","s":"Pt(211)","x0":-0.15,"x1":-0.12,"y":0.017},
{"p":"e","s":"Pt(211)","x0":-0.12,"x1":-0.09,"y":0.011},
{"p":"e","s":"Pt(211)","x0":-0.09,"x1":-0.06,"y":0.007},
{"p":"e","s":"Pt(211)","x0":-0.06,"x1":-0.03,"y":0.004},
{"p":"e","s":"Pt(211)","x0":-0.03,"x1":0,"y":0.002}
]
},
"columns":3,
"bounds":"flush",
"spacing":{"row":110,"column":80},
"concat":[
{
"width":259,"height":154,
"resolve":{"axis":{"x":"independent","y":"independent"}},
"layer":[
{"data":{"name":"bars"},"transform":[{"filter":"datum.p==='a' && datum.s==='Pt(211)'"}],
"mark":{"type":"bar","orient":"vertical","fillOpacity":0.72},
"encoding":{
"x":{"field":"x0","type":"quantitative","scale":{"domain":[-10,5],"nice":false},"axis":{"values":[-10,-5,0,5],"title":"log₁₀TOF","titleX":-8,"titleY":57,"titleAlign":"left","titleBaseline":"alphabetic"}},
"x2":{"field":"x1"},
"y":{"field":"y","type":"quantitative","scale":{"domain":[0,0.2],"nice":false},"axis":{"values":[0,0.1,0.2],"title":"Probability Density","titleX":-59,"titleBaseline":"middle"}},
"color":{"field":"s","type":"nominal","scale":{"domain":["Pt(100)","Pt(111)","Pt(211)"],"range":["#1e1e1e","#00ffff","#ff00ff"]},"legend":{"title":null,"orient":"none","legendX":666,"legendY":270,"labelFontSize":35,"labelColor":"#111111","labelLimit":400,"symbolType":"M-1,-0.55H1V0.55H-1Z","symbolSize":576,"symbolStrokeWidth":0,"symbolOpacity":0.55,"rowPadding":6,"labelOffset":-5}}
}},
{"data":{"name":"bars"},"transform":[{"filter":"datum.p==='a' && datum.s==='Pt(111)'"}],
"mark":{"type":"bar","orient":"vertical","fillOpacity":0.72},
"encoding":{
"x":{"field":"x0","type":"quantitative","scale":{"domain":[-10,5],"nice":false},"axis":{"orient":"bottom","labels":false,"ticks":false,"domain":false,"title":"Propylene","titleFontSize":20,"titleX":106,"titleY":65,"titleAlign":"left","titleBaseline":"alphabetic"}},
"x2":{"field":"x1"},
"y":{"field":"y","type":"quantitative","scale":{"domain":[0,0.2],"nice":false},"axis":null},
"color":{"field":"s","type":"nominal"}
}},
{"data":{"name":"bars"},"transform":[{"filter":"datum.p==='a' && datum.s==='Pt(100)'"}],
"mark":{"type":"bar","orient":"vertical","fillOpacity":0.72,"stroke":"#000000","strokeWidth":0.5},
"encoding":{
"x":{"field":"x0","type":"quantitative","scale":{"domain":[-10,5],"nice":false},"axis":{"orient":"bottom","labels":false,"ticks":false,"domain":false,"title":"(1/s)","titleX":211,"titleY":57,"titleAlign":"left","titleBaseline":"alphabetic"}},
"x2":{"field":"x1"},
"y":{"field":"y","type":"quantitative","scale":{"domain":[0,0.2],"nice":false},"axis":{"orient":"right","values":[0,0.1,0.2],"labels":false,"title":null}},
"color":{"field":"s","type":"nominal"}
}},
{"data":{"name":"ref"},"transform":[{"filter":"datum.p==='a'"}],
"mark":{"type":"rule","color":"#4d4d4d","strokeWidth":4.5,"strokeDashOffset":15},
"encoding":{
"x":{"field":"x0","type":"quantitative","scale":{"domain":[-10,5],"nice":false},"axis":{"orient":"top","values":[-10,-5,0,5],"labels":false,"title":"a","titleX":9,"titleY":31,"titleAlign":"left","titleBaseline":"middle","titleFontSize":21,"titleColor":"#111111"}},
"strokeDash":{"field":"r","type":"nominal","scale":{"range":[[19,18.5]]},"legend":{"title":null,"orient":"none","legendX":662,"legendY":393,"labelFontSize":35,"labelColor":"#111111","labelLimit":400,"symbolSize":225,"symbolStrokeWidth":4,"symbolStrokeColor":"#4d4d4d","labelOffset":-1}}
}}
]
},
{
"width":259,"height":154,
"resolve":{"axis":{"x":"independent","y":"independent"}},
"layer":[
{"data":{"name":"bars"},"transform":[{"filter":"datum.p==='b' && datum.s==='Pt(211)'"}],
"mark":{"type":"bar","orient":"vertical","fillOpacity":0.72},
"encoding":{
"x":{"field":"x0","type":"quantitative","scale":{"domain":[-0.1,1.1],"nice":false},"axis":{"values":[0,0.5,1],"title":"Selectivity to Propylene","titleY":63,"titleBaseline":"alphabetic"}},
"x2":{"field":"x1"},
"y":{"field":"y","type":"quantitative","scale":{"domain":[0,1],"nice":false},"axis":{"values":[0,0.5,1],"title":null}},
"color":{"field":"s","type":"nominal"}
}},
{"data":{"name":"bars"},"transform":[{"filter":"datum.p==='b' && datum.s==='Pt(111)'"}],
"mark":{"type":"bar","orient":"vertical","fillOpacity":0.72},
"encoding":{
"x":{"field":"x0","type":"quantitative","scale":{"domain":[-0.1,1.1],"nice":false},"axis":null},
"x2":{"field":"x1"},
"y":{"field":"y","type":"quantitative","scale":{"domain":[0,1],"nice":false},"axis":null},
"color":{"field":"s","type":"nominal"}
}},
{"data":{"name":"bars"},"transform":[{"filter":"datum.p==='b' && datum.s==='Pt(100)'"}],
"mark":{"type":"bar","orient":"vertical","fillOpacity":0.72,"stroke":"#000000","strokeWidth":0.5},
"encoding":{
"x":{"field":"x0","type":"quantitative","scale":{"domain":[-0.1,1.1],"nice":false},"axis":null},
"x2":{"field":"x1"},
"y":{"field":"y","type":"quantitative","scale":{"domain":[0,1],"nice":false},"axis":{"orient":"right","values":[0,0.5,1],"labels":false,"title":null}},
"color":{"field":"s","type":"nominal"}
}},
{"data":{"name":"ref"},"transform":[{"filter":"datum.p==='b'"}],
"mark":{"type":"rule","color":"#4d4d4d","strokeWidth":4.5,"strokeDashOffset":15},
"encoding":{
"x":{"field":"x0","type":"quantitative","scale":{"domain":[-0.1,1.1],"nice":false},"axis":{"orient":"top","values":[0,0.5,1],"labels":false,"title":"b","titleX":9,"titleY":31,"titleAlign":"left","titleBaseline":"middle","titleFontSize":21,"titleColor":"#111111"}},
"strokeDash":{"field":"r","type":"nominal","scale":{"range":[[19,18.5]]}}
}}
]
},
{
"width":259,"height":154,
"resolve":{"axis":{"x":"independent","y":"independent"}},
"layer":[
{"data":{"name":"bars"},"transform":[{"filter":"datum.p==='c' && datum.s==='Pt(211)'"}],
"mark":{"type":"bar","orient":"vertical","fillOpacity":0.72},
"encoding":{
"x":{"field":"x0","type":"quantitative","scale":{"domain":[0,4],"nice":false},"axis":{"values":[0,2,4],"title":"Apparent Activation Energy (eV)","titleY":58,"titleBaseline":"alphabetic"}},
"x2":{"field":"x1"},
"y":{"field":"y","type":"quantitative","scale":{"domain":[0,0.1],"nice":false},"axis":{"values":[0,0.05,0.1],"title":null}},
"color":{"field":"s","type":"nominal"}
}},
{"data":{"name":"bars"},"transform":[{"filter":"datum.p==='c' && datum.s==='Pt(111)'"}],
"mark":{"type":"bar","orient":"vertical","fillOpacity":0.72},
"encoding":{
"x":{"field":"x0","type":"quantitative","scale":{"domain":[0,4],"nice":false},"axis":null},
"x2":{"field":"x1"},
"y":{"field":"y","type":"quantitative","scale":{"domain":[0,0.1],"nice":false},"axis":null},
"color":{"field":"s","type":"nominal"}
}},
{"data":{"name":"bars"},"transform":[{"filter":"datum.p==='c' && datum.s==='Pt(100)'"}],
"mark":{"type":"bar","orient":"vertical","fillOpacity":0.72,"stroke":"#000000","strokeWidth":0.5},
"encoding":{
"x":{"field":"x0","type":"quantitative","scale":{"domain":[0,4],"nice":false},"axis":null},
"x2":{"field":"x1"},
"y":{"field":"y","type":"quantitative","scale":{"domain":[0,0.1],"nice":false},"axis":{"orient":"right","values":[0,0.05,0.1],"labels":false,"title":null}},
"color":{"field":"s","type":"nominal"}
}},
{"data":{"name":"ref"},"transform":[{"filter":"datum.p==='c'"}],
"mark":{"type":"rule","color":"#4d4d4d","strokeWidth":4.5,"strokeDashOffset":15},
"encoding":{
"x":{"field":"x0","type":"quantitative","scale":{"domain":[0,4],"nice":false},"axis":{"orient":"top","values":[0,2,4],"labels":false,"title":"c","titleX":9,"titleY":31,"titleAlign":"left","titleBaseline":"middle","titleFontSize":21,"titleColor":"#111111"}},
"strokeDash":{"field":"r","type":"nominal","scale":{"range":[[19,18.5]]}}
}}
]
},
{
"width":259,"height":154,
"resolve":{"axis":{"x":"independent","y":"independent"}},
"layer":[
{"data":{"name":"bars"},"transform":[{"filter":"datum.p==='d' && datum.s==='Pt(211)'"}],
"mark":{"type":"bar","orient":"vertical","fillOpacity":0.72},
"encoding":{
"x":{"field":"x0","type":"quantitative","scale":{"domain":[-1,2],"nice":false},"axis":{"values":[-1,0,1,2],"title":"Propane Reaction Order","titleY":63,"titleBaseline":"alphabetic"}},
"x2":{"field":"x1"},
"y":{"field":"y","type":"quantitative","scale":{"domain":[0,1],"nice":false},"axis":{"values":[0,0.5,1],"title":"Probability Density","titleX":-59,"titleBaseline":"middle"}},
"color":{"field":"s","type":"nominal"}
}},
{"data":{"name":"bars"},"transform":[{"filter":"datum.p==='d' && datum.s==='Pt(111)'"}],
"mark":{"type":"bar","orient":"vertical","fillOpacity":0.72},
"encoding":{
"x":{"field":"x0","type":"quantitative","scale":{"domain":[-1,2],"nice":false},"axis":null},
"x2":{"field":"x1"},
"y":{"field":"y","type":"quantitative","scale":{"domain":[0,1],"nice":false},"axis":null},
"color":{"field":"s","type":"nominal"}
}},
{"data":{"name":"bars"},"transform":[{"filter":"datum.p==='d' && datum.s==='Pt(100)'"}],
"mark":{"type":"bar","orient":"vertical","fillOpacity":0.72,"stroke":"#000000","strokeWidth":0.5},
"encoding":{
"x":{"field":"x0","type":"quantitative","scale":{"domain":[-1,2],"nice":false},"axis":null},
"x2":{"field":"x1"},
"y":{"field":"y","type":"quantitative","scale":{"domain":[0,1],"nice":false},"axis":{"orient":"right","values":[0,0.5,1],"labels":false,"title":null}},
"color":{"field":"s","type":"nominal"}
}},
{"data":{"name":"ref"},"transform":[{"filter":"datum.p==='d'"}],
"mark":{"type":"rule","color":"#262626","strokeWidth":4.5,"strokeDashOffset":15},
"encoding":{
"x":{"field":"x0","type":"quantitative","scale":{"domain":[-1,2],"nice":false},"axis":{"orient":"top","values":[-1,0,1,2],"labels":false,"title":"d","titleX":9,"titleY":31,"titleAlign":"left","titleBaseline":"middle","titleFontSize":21,"titleColor":"#111111"}},
"strokeDash":{"field":"r","type":"nominal","scale":{"range":[[19,18.5]]}}
}}
]
},
{
"width":259,"height":154,
"resolve":{"axis":{"x":"independent","y":"independent"}},
"layer":[
{"data":{"name":"bars"},"transform":[{"filter":"datum.p==='e' && datum.s==='Pt(211)'"}],
"mark":{"type":"bar","orient":"vertical","fillOpacity":0.72},
"encoding":{
"x":{"field":"x0","type":"quantitative","scale":{"domain":[-1.5,1.5],"nice":false},"axis":{"values":[-1,0,1],"title":"H₂ Reaction Order","titleY":63,"titleBaseline":"alphabetic"}},
"x2":{"field":"x1"},
"y":{"field":"y","type":"quantitative","scale":{"domain":[0,0.1],"nice":false},"axis":{"values":[0,0.05,0.1],"title":null}},
"color":{"field":"s","type":"nominal"}
}},
{"data":{"name":"bars"},"transform":[{"filter":"datum.p==='e' && datum.s==='Pt(111)'"}],
"mark":{"type":"bar","orient":"vertical","fillOpacity":0.72},
"encoding":{
"x":{"field":"x0","type":"quantitative","scale":{"domain":[-1.5,1.5],"nice":false},"axis":null},
"x2":{"field":"x1"},
"y":{"field":"y","type":"quantitative","scale":{"domain":[0,0.1],"nice":false},"axis":null},
"color":{"field":"s","type":"nominal"}
}},
{"data":{"name":"bars"},"transform":[{"filter":"datum.p==='e' && datum.s==='Pt(100)'"}],
"mark":{"type":"bar","orient":"vertical","fillOpacity":0.72,"stroke":"#000000","strokeWidth":0.5},
"encoding":{
"x":{"field":"x0","type":"quantitative","scale":{"domain":[-1.5,1.5],"nice":false},"axis":null},
"x2":{"field":"x1"},
"y":{"field":"y","type":"quantitative","scale":{"domain":[0,0.1],"nice":false},"axis":{"orient":"right","values":[0,0.05,0.1],"labels":false,"title":null}},
"color":{"field":"s","type":"nominal"}
}},
{"data":{"name":"ref"},"transform":[{"filter":"datum.p==='e'"}],
"mark":{"type":"rule","color":"#4d4d4d","strokeWidth":4.5,"strokeDashOffset":15},
"encoding":{
"x":{"field":"x0","type":"quantitative","scale":{"domain":[-1.5,1.5],"nice":false},"axis":{"orient":"top","values":[-1,0,1],"labels":false,"title":"e","titleX":9,"titleY":31,"titleAlign":"left","titleBaseline":"middle","titleFontSize":21,"titleColor":"#111111"}},
"strokeDash":{"field":"r","type":"nominal","scale":{"range":[[19,18.5]]}}
}}
]
}
],
"config":{
"font":"Liberation Sans",
"view":{"stroke":"#808080","strokeWidth":1},
"axis":{"grid":false,"domain":false,"tickSize":-5,"tickColor":"#404040","tickWidth":1,"labelFontSize":23,"labelColor":"#262626","labelPadding":13,"titleFontSize":26.5,"titleFontWeight":"normal","titleColor":"#262626","format":"~f","labelExpr":"replace(datum.label, '−', '-')"},
"axisX":{"labelPadding":15}
}
}
